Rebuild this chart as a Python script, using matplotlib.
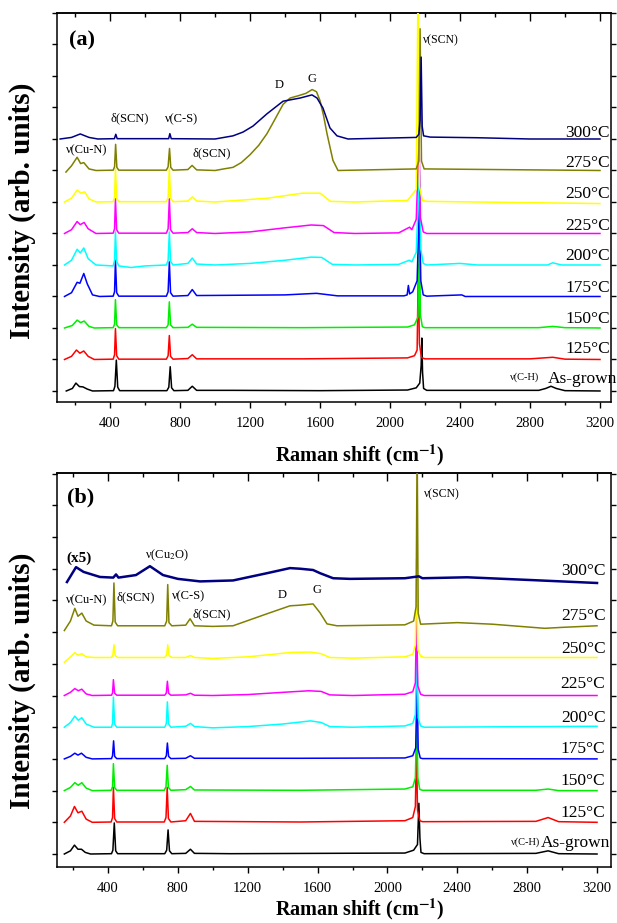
"""Raman spectra of CuSCN films annealed at different temperatures, panels (a) and (b)."""

import matplotlib

matplotlib.use('Agg')
import matplotlib.pyplot as plt
from matplotlib.ticker import MultipleLocator

plt.rcParams['font.family'] = ['Liberation Serif', 'DejaVu Serif']
plt.rcParams['mathtext.fontset'] = 'stix'

LABELS = ['As-grown', '125°C', '150°C', '175°C', '200°C', '225°C', '250°C', '275°C', '300°C']
COLORS = ['#000000', '#ff0000', '#00ee00', '#0000ff', '#00ffff', '#ff00ff', '#ffff00', '#808000', '#000080']

# intensities are relative to each spectrum's own stack offset (arb. units)
# ---- panel (a) ----
A_ASGROWN = [(150, 0.0), (185, 0.08), (205, 0.25), (225, 0.14), (245, 0.13), (270, 0.06), (300, 0.0),
             (420, 0.01), (428, 0.15), (436, 0.98), (444, 0.12), (455, 0.01), (725, 0.01), (736, 0.12),
             (744, 0.77), (752, 0.1), (765, 0.01), (845, 0.02), (870, 0.15), (895, 0.02), (1100, 0.02),
             (1600, 0.01), (2100, 0.03), (2150, 0.1), (2170, 0.25), (2178, 0.8), (2182, 1.68), (2186, 0.6),
             (2192, 0.08), (2210, 0.02), (2850, 0.02), (2890, 0.08), (2920, 0.15), (2950, 0.08), (3000, 0.01),
             (3200, 0.0)]
A_125 = [(140, 0.0), (180, 0.1), (208, 0.3), (228, 0.2), (250, 0.27), (275, 0.1), (310, 0.0), (418, 0.01),
         (426, 0.15), (431, 0.98), (438, 0.12), (450, 0.01), (722, 0.01), (732, 0.12), (739, 0.76), (746, 0.1),
         (760, 0.01), (845, 0.03), (870, 0.15), (895, 0.02), (1500, 0.02), (2100, 0.05), (2140, 0.12),
         (2155, 0.3), (2162, 3.0), (2168, 0.5), (2180, 0.06), (2200, 0.02), (2800, 0.02), (2930, 0.07),
         (3000, 0.01), (3200, 0.0)]
A_150 = [(140, 0.0), (185, 0.08), (212, 0.25), (232, 0.17), (252, 0.22), (280, 0.05), (310, 0.0), (418, 0.01),
         (426, 0.12), (431, 0.9), (438, 0.1), (450, 0.01), (722, 0.01), (732, 0.1), (739, 0.83), (746, 0.1),
         (760, 0.01), (845, 0.02), (870, 0.12), (895, 0.02), (1500, 0.01), (2100, 0.03), (2140, 0.1),
         (2160, 0.35), (2168, 3.0), (2174, 0.4), (2185, 0.04), (2200, 0.01), (2850, 0.01), (2930, 0.05),
         (3000, 0.01), (3200, 0.0)]
A_175 = [(140, 0.0), (180, 0.12), (212, 0.45), (228, 0.42), (250, 0.73), (270, 0.4), (300, 0.05), (340, 0.0),
         (418, 0.01), (426, 0.15), (431, 1.15), (438, 0.12), (450, 0.01), (722, 0.01), (732, 0.15), (739, 1.1),
         (746, 0.12), (760, 0.01), (845, 0.03), (870, 0.22), (895, 0.03), (1400, 0.05), (1580, 0.1),
         (1700, 0.02), (2080, 0.02), (2098, 0.05), (2105, 0.35), (2112, 0.08), (2130, 0.15), (2155, 0.5),
         (2168, 3.0), (2176, 0.5), (2190, 0.05), (2210, 0.01), (2410, 0.05), (2430, 0.0), (3200, 0.0)]
A_200 = [(140, 0.0), (180, 0.15), (212, 0.5), (230, 0.38), (250, 0.54), (275, 0.2), (320, 0.0), (418, -0.03),
         (426, 0.15), (431, 1.05), (438, 0.12), (450, -0.03), (520, -0.08), (600, -0.03), (722, 0.0),
         (732, 0.15), (739, 1.05), (746, 0.12), (760, 0.0), (845, 0.05), (870, 0.22), (895, 0.03), (1000, 0.0),
         (1200, 0.05), (1400, 0.15), (1550, 0.25), (1610, 0.24), (1670, 0.02), (1800, 0.0), (2050, 0.02),
         (2110, 0.15), (2125, 0.1), (2150, 0.4), (2168, 3.0), (2176, 0.5), (2190, 0.05), (2210, 0.0),
         (2400, 0.05), (2500, 0.0), (2900, 0.0), (2930, 0.07), (2980, 0.0), (3200, 0.0)]
A_225 = [(140, 0.0), (180, 0.12), (212, 0.38), (230, 0.28), (252, 0.35), (275, 0.15), (320, 0.0), (418, 0.01),
         (426, 0.15), (431, 1.1), (438, 0.12), (450, 0.01), (722, 0.01), (732, 0.15), (739, 1.1), (746, 0.12),
         (760, 0.01), (845, 0.03), (870, 0.15), (895, 0.03), (1000, 0.0), (1200, 0.05), (1400, 0.18),
         (1550, 0.27), (1620, 0.25), (1680, 0.03), (1800, 0.0), (2050, 0.02), (2112, 0.2), (2125, 0.12),
         (2150, 0.45), (2166, 3.0), (2174, 0.5), (2190, 0.05), (2210, 0.0), (3200, 0.0)]
A_250 = [(140, 0.0), (180, 0.12), (212, 0.38), (232, 0.28), (255, 0.32), (280, 0.1), (320, 0.0), (418, 0.01),
         (426, 0.15), (431, 1.07), (438, 0.12), (450, 0.01), (722, 0.01), (732, 0.15), (739, 1.07), (746, 0.12),
         (760, 0.01), (845, 0.03), (870, 0.16), (895, 0.03), (1000, 0.0), (1300, 0.12), (1500, 0.28),
         (1600, 0.28), (1660, 0.02), (1800, 0.0), (2100, 0.05), (2150, 0.4), (2160, 7.0), (2168, 0.5),
         (2185, 0.05), (2210, 0.02), (3200, -0.05)]
A_275 = [(148, -0.05), (180, 0.15), (212, 0.42), (232, 0.22), (250, 0.25), (280, 0.05), (320, 0.0), (418, 0.01),
         (426, 0.12), (432, 0.83), (439, 0.1), (450, 0.01), (722, 0.01), (732, 0.12), (740, 0.7), (747, 0.1),
         (760, 0.01), (845, 0.03), (869, 0.16), (895, 0.02), (1000, 0.0), (1050, 0.05), (1103, 0.1),
         (1150, 0.25), (1200, 0.5), (1250, 0.8), (1297, 1.17), (1340, 1.6), (1389, 2.1), (1429, 2.3),
         (1480, 2.38), (1520, 2.45), (1555, 2.57), (1580, 2.5), (1600, 2.22), (1620, 1.75), (1640, 1.17),
         (1674, 0.32), (1703, 0.0), (2150, 0.05), (2165, 0.3), (2172, 4.5), (2180, 0.3), (2195, 0.05),
         (3200, 0.0)]
A_300 = [(115, 0.0), (180, 0.05), (230, 0.16), (280, 0.05), (330, 0.0), (425, 0.01), (433, 0.15), (441, 0.01),
         (735, 0.01), (742, 0.17), (750, 0.01), (1000, 0.0), (1103, 0.1), (1160, 0.22), (1217, 0.41),
         (1297, 0.8), (1389, 1.2), (1486, 1.3), (1554, 1.4), (1583, 1.3), (1617, 0.98), (1657, 0.35),
         (1697, 0.1), (1760, 0.0), (2150, 0.05), (2165, 0.15), (2172, 0.6), (2178, 2.6), (2184, 0.4),
         (2192, 0.1), (2230, 0.06), (2500, 0.04), (2800, 0.0), (3200, 0.0)]

# ---- panel (b) ----
B_ASGROWN = [(150, 0.0), (185, 0.1), (208, 0.28), (228, 0.15), (248, 0.15), (270, 0.05), (300, 0.0),
             (420, 0.01), (428, 0.12), (436, 0.98), (444, 0.1), (455, 0.01), (725, 0.01), (736, 0.12),
             (744, 0.76), (752, 0.1), (765, 0.01), (845, 0.02), (872, 0.15), (895, 0.02), (1100, 0.01),
             (2100, 0.03), (2150, 0.12), (2172, 0.3), (2180, 1.6), (2186, 0.5), (2192, 0.05), (2210, 0.01),
             (2850, 0.02), (2920, 0.1), (2980, 0.01), (3200, 0.0)]
B_125 = [(150, 0.0), (185, 0.2), (208, 0.5), (228, 0.3), (250, 0.35), (275, 0.1), (310, 0.0), (418, 0.01),
         (426, 0.15), (431, 1.1), (438, 0.12), (450, 0.01), (722, 0.01), (732, 0.15), (739, 1.1), (746, 0.12),
         (760, 0.01), (845, 0.05), (872, 0.28), (895, 0.03), (1500, 0.01), (2100, 0.05), (2145, 0.15),
         (2160, 0.5), (2166, 2.5), (2172, 0.4), (2185, 0.05), (2200, 0.02), (2850, 0.03), (2920, 0.15),
         (2980, 0.02), (3200, 0.0)]
B_150 = [(150, 0.0), (185, 0.1), (210, 0.25), (230, 0.17), (250, 0.25), (275, 0.08), (310, 0.0), (418, 0.01),
         (426, 0.12), (431, 0.85), (438, 0.1), (450, 0.01), (722, 0.01), (732, 0.12), (739, 0.8), (746, 0.1),
         (760, 0.01), (845, 0.03), (872, 0.13), (895, 0.02), (1500, 0.01), (2100, 0.05), (2145, 0.12),
         (2160, 0.4), (2168, 2.5), (2174, 0.4), (2185, 0.04), (2200, 0.01), (2850, 0.01), (2920, 0.05),
         (2980, 0.0), (3200, 0.0)]
B_175 = [(150, 0.0), (185, 0.08), (210, 0.18), (228, 0.12), (248, 0.18), (275, 0.05), (310, 0.0), (420, 0.01),
         (426, 0.1), (432, 0.57), (438, 0.08), (450, 0.01), (725, 0.01), (734, 0.1), (740, 0.5), (747, 0.08),
         (760, 0.01), (845, 0.02), (872, 0.1), (895, 0.02), (1500, 0.02), (2100, 0.03), (2145, 0.1),
         (2162, 0.35), (2170, 2.5), (2176, 0.3), (2188, 0.03), (2200, 0.01), (3200, 0.0)]
B_200 = [(150, 0.0), (185, 0.15), (210, 0.35), (230, 0.22), (250, 0.3), (275, 0.1), (320, 0.0), (420, 0.0),
         (426, 0.12), (431, 0.95), (438, 0.1), (450, 0.0), (725, 0.0), (734, 0.12), (740, 0.8), (747, 0.1),
         (760, 0.0), (845, 0.03), (872, 0.12), (895, 0.02), (1000, -0.02), (1200, 0.02), (1400, 0.1),
         (1560, 0.2), (1620, 0.15), (1670, 0.02), (1800, 0.0), (2100, 0.04), (2145, 0.12), (2160, 0.4),
         (2168, 2.5), (2176, 0.3), (2190, 0.04), (2210, 0.0), (3200, 0.03)]
B_225 = [(150, 0.0), (185, 0.1), (210, 0.22), (230, 0.15), (250, 0.2), (275, 0.05), (310, 0.0), (420, 0.01),
         (426, 0.08), (431, 0.5), (438, 0.07), (450, 0.01), (725, 0.01), (734, 0.08), (740, 0.45), (747, 0.07),
         (760, 0.01), (845, 0.02), (872, 0.07), (895, 0.01), (1000, 0.0), (1200, 0.03), (1400, 0.1),
         (1550, 0.15), (1620, 0.13), (1670, 0.02), (1800, 0.0), (2100, 0.04), (2145, 0.12), (2160, 0.4),
         (2166, 2.6), (2174, 0.3), (2190, 0.04), (2210, 0.0), (3200, 0.0)]
B_250 = [(150, 0.05), (185, 0.22), (210, 0.35), (230, 0.27), (250, 0.32), (275, 0.22), (320, 0.2), (420, 0.2),
         (428, 0.28), (434, 0.6), (441, 0.26), (455, 0.2), (725, 0.2), (736, 0.28), (742, 0.6), (749, 0.26),
         (765, 0.2), (845, 0.2), (872, 0.26), (895, 0.2), (1000, 0.17), (1200, 0.22), (1450, 0.36),
         (1560, 0.37), (1620, 0.32), (1670, 0.2), (1800, 0.18), (2100, 0.22), (2145, 0.3), (2160, 0.6),
         (2166, 3.3), (2174, 0.45), (2190, 0.24), (2210, 0.2), (3200, 0.2)]
B_275 = [(150, 0.05), (185, 0.35), (210, 0.75), (228, 0.5), (250, 0.6), (275, 0.35), (320, 0.22), (420, 0.2),
         (428, 0.35), (434, 1.55), (441, 0.32), (455, 0.2), (725, 0.2), (736, 0.35), (742, 1.5), (749, 0.3),
         (765, 0.2), (845, 0.22), (870, 0.42), (895, 0.2), (1000, 0.18), (1116, 0.2), (1311, 0.58),
         (1442, 0.83), (1500, 0.85), (1574, 0.89), (1614, 0.61), (1654, 0.26), (1711, 0.2), (2100, 0.23),
         (2150, 0.35), (2164, 0.8), (2170, 6.0), (2176, 0.6), (2190, 0.25), (2400, 0.3), (2600, 0.25),
         (2900, 0.12), (3000, 0.15), (3200, 0.2)]
B_300 = [(165, 0.58), (217, 1.05), (260, 0.9), (354, 0.74), (430, 0.72), (446, 0.82), (460, 0.72), (560, 0.8),
         (640, 1.08), (715, 0.8), (800, 0.68), (927, 0.6), (1116, 0.63), (1311, 0.86), (1442, 1.02),
         (1500, 1.0), (1574, 0.96), (1614, 0.86), (1689, 0.7), (1786, 0.68), (2100, 0.7), (2180, 0.76),
         (2200, 0.7), (2456, 0.73), (2834, 0.64), (3200, 0.55)]

SPECTRA_A = [A_ASGROWN, A_125, A_150, A_175, A_200, A_225, A_250, A_275, A_300]
SPECTRA_B = [B_ASGROWN, B_125, B_150, B_175, B_200, B_225, B_250, B_275, B_300]
OFFSETS = [0, 1, 2, 3, 4, 5, 6, 7, 8]

# text baseline heights of the temperature labels
LABEL_Y_A = [0.25, 1.21, 2.16, 3.14, 4.16, 5.11, 6.13, 7.11, 8.06]
LABEL_Y_B = [0.22, 1.17, 2.18, 3.19, 4.16, 5.24, 6.34, 7.38, 8.80]

# (text, x, y, fontsize, bold)
NOTES_A = [('(a)', 240, 11.14, 16, True), ('ν(SCN)', 2290, 11.14, 8.5, False),
           ('D', 1366, 9.7, 9, False), ('G', 1554, 9.9, 9, False),
           ('δ(SCN)', 514, 8.67, 9, False), ('ν(C-S)', 811, 8.63, 9, False),
           ('ν(Cu-N)', 269, 7.65, 9, False), ('δ(SCN)', 983, 7.55, 9, False),
           ('ν(C-H)', 2771, 0.44, 7.5, False)]
NOTES_B = [('(b)', 245, 11.26, 16, True), ('(x5)', 234, 9.34, 11, True),
           ('ν(Cu$_2$O)', 738, 9.43, 9, False), ('ν(Cu-N)', 280, 8.01, 9, False),
           ('δ(SCN)', 560, 8.1, 9, False), ('ν(C-S)', 864, 8.14, 9, False),
           ('δ(SCN)', 996, 7.57, 9, False), ('D', 1397, 8.17, 9, False), ('G', 1597, 8.33, 9, False),
           ('ν(SCN)', 2313, 11.36, 8.5, False), ('ν(C-H)', 2788, 0.38, 7.5, False)]


def draw_panel(ax, spectra, label_y, notes, xlim, ylim, label_x, grown_x, lw_last):
    for i, spec in enumerate(spectra):
        xs = [p[0] for p in spec]
        ys = [p[1] + OFFSETS[i] for p in spec]
        lw = lw_last if i == len(spectra) - 1 else 1.1
        ax.plot(xs, ys, color=COLORS[i], lw=lw, zorder=2 + i)
    for i, lab in enumerate(LABELS):
        x = grown_x if i == 0 else label_x
        ax.text(x, label_y[i], lab, fontsize=12.5, ha='right', va='baseline', clip_on=False, zorder=20)
    for txt, x, y, fs, bold in notes:
        ax.text(x, y, txt, fontsize=fs, ha='center', va='center',
                weight='bold' if bold else 'normal', zorder=20)

    ax.set_xlim(*xlim)
    ax.set_ylim(*ylim)
    ax.xaxis.set_major_locator(MultipleLocator(400))
    ax.xaxis.set_minor_locator(MultipleLocator(200))
    ax.yaxis.set_major_locator(MultipleLocator(1))
    ax.set_yticklabels([])
    ax.tick_params(axis='x', which='major', direction='out', length=4.5, width=1.0,
                   labelsize=10.5, pad=6)
    ax.tick_params(axis='x', which='minor', direction='out', length=2.5, width=1.0)
    ax.tick_params(axis='y', which='major', direction='out', length=3.5, width=1.0,
                   left=True, right=True, labelleft=False)
    top = ax.secondary_xaxis('top')
    top.xaxis.set_major_locator(MultipleLocator(400))
    top.xaxis.set_minor_locator(MultipleLocator(200))
    top.tick_params(which='major', direction='in', length=5.5, width=1.0, labeltop=False)
    top.tick_params(which='minor', direction='in', length=3, width=1.0)
    for s in ax.spines.values():
        s.set_linewidth(1.1)
    top.spines['top'].set_linewidth(1.1)


fig = plt.figure(figsize=(6.17, 9.23), dpi=100)
W, H = 617, 923
ax_a = fig.add_axes([57 / W, 1 - 402 / H, (611 - 57) / W, (402 - 13) / H])
ax_b = fig.add_axes([57 / W, 1 - 867 / H, (611 - 57) / W, (867 - 473) / H])

draw_panel(ax_a, SPECTRA_A, LABEL_Y_A, NOTES_A, (97, 3263), (-0.35, 12.0), 3257, 3297, 1.1)
draw_panel(ax_b, SPECTRA_B, LABEL_Y_B, NOTES_B, (108, 3280), (-0.41, 12.02), 3248, 3275, 1.8)

for yc in (211, 681):
    fig.text(22 / W, 1 - yc / H, 'Intensity (arb. units)', rotation=90, fontsize=21,
             weight='bold', ha='center', va='center')
for yc in (455, 909):
    fig.text(360 / W, 1 - yc / H, 'Raman shift (cm$^{\\mathbf{-1}}$)', fontsize=14.5,
             weight='bold', ha='center', va='center')

fig.savefig('out.png', dpi=100)
